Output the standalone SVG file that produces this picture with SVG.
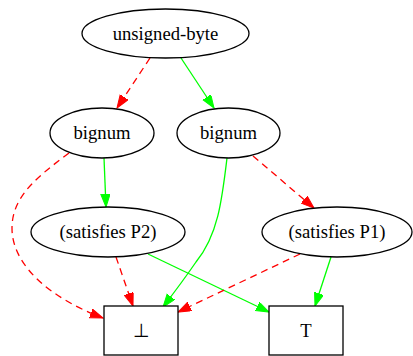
<svg xmlns="http://www.w3.org/2000/svg" width="413" height="356" viewBox="0 0 413 356">
<style>
.n ellipse,.n rect{fill:#fff;stroke:#000;stroke-width:1.3}
.n text{font-family:"Liberation Serif","Times New Roman",serif;font-size:18.67px;fill:#000;text-anchor:middle}
.e path{fill:none;stroke-width:1.3}
.r{stroke:#f00;stroke-dasharray:7,5;marker-end:url(#ar)}
.g{stroke:#0f0;marker-end:url(#ag)}
</style>
<defs>
<marker id="ar" markerUnits="userSpaceOnUse" markerWidth="15" markerHeight="11" refX="13" refY="4.7" orient="auto"><path d="M0,0 L13,4.7 L0,9.4 z" fill="#f00" stroke="#f00" stroke-width="1"/></marker>
<marker id="ag" markerUnits="userSpaceOnUse" markerWidth="15" markerHeight="11" refX="13" refY="4.7" orient="auto"><path d="M0,0 L13,4.7 L0,9.4 z" fill="#0f0" stroke="#0f0" stroke-width="1"/></marker>
</defs>
<rect width="413" height="356" fill="#fff"/>
<g class="e" id="edges">
<path class="r" d="M150,58 L117,108"/>
<path class="g" d="M181,58 L214,108"/>
<path class="r" d="M69,153 C40,175 12,195 12,228 C12,268 55,300 103,318"/>
<path class="g" d="M104,158 L106,207"/>
<path class="g" d="M227,158 C222,200 218,235 196,262 C185,278 173,294 163,307"/>
<path class="r" d="M253,156 L314,208"/>
<path class="r" d="M116,257 L133,306"/>
<path class="g" d="M148,254 L269,312"/>
<path class="r" d="M300,254 L178,312"/>
<path class="g" d="M331,257 L315,306"/>
</g>
<g class="n" id="n_ub"><ellipse cx="165.5" cy="33.5" rx="83.5" ry="24.5"/><text x="165.5" y="39.5">unsigned-byte</text></g>
<g class="n" id="n_b1"><ellipse cx="102" cy="133" rx="52" ry="25"/><text x="102" y="139">bignum</text></g>
<g class="n" id="n_b2"><ellipse cx="228.5" cy="133" rx="51.5" ry="25"/><text x="228.5" y="139">bignum</text></g>
<g class="n" id="n_p2"><ellipse cx="108" cy="232" rx="77" ry="25"/><text x="108" y="238">(satisfies P2)</text></g>
<g class="n" id="n_p1"><ellipse cx="337" cy="232" rx="75" ry="25"/><text x="337" y="238">(satisfies P1)</text></g>
<g class="n" id="n_bot"><rect x="104" y="306" width="74" height="49"/><text x="141" y="337">⊥</text></g>
<g class="n" id="n_top"><rect x="269" y="306" width="74" height="49"/><text x="306" y="337">T</text></g>
</svg>
